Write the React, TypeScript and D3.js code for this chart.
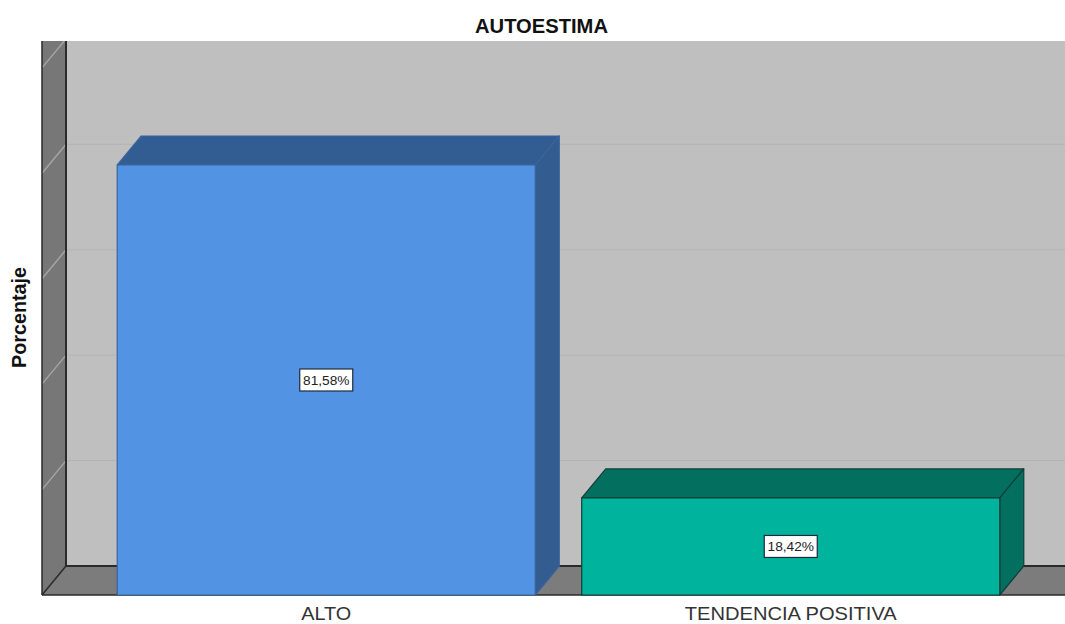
import React from "react";
import * as d3 from "d3";

const categories = ["ALTO", "TENDENCIA POSITIVA"];
const values = [81.58, 18.42];
const valueLabels = ["81,58%", "18,42%"];
const gridValues = [20, 40, 60, 80, 100];
const frontColors = ["#5294e3", "#00b39c"];
const topColors = ["#325d93", "#03705f"];
const sideColors = ["#335d91", "#03705f"];
const edgeColors = ["#38659c", "#0f3f38"];
const FONT = "'Liberation Sans', Arial, sans-serif";

const W = 1065, H = 624;
const left = 42, floorY = 595, dx = 24, dy = 29, top = 41;

const x = d3.scaleBand<string>().domain(categories).range([94, 1023]).paddingInner(0.1).paddingOuter(0.05);
const y = d3.scaleLinear().domain([0, 100]).range([floorY, floorY - 527.1]);
const poly = (pts: [number, number][]) => d3.line()(pts) + "Z";

export default function App() {
  const bw = x.bandwidth();
  return (
    <svg width={W} height={H} viewBox={`0 0 ${W} ${H}`} style={{ position: "absolute", left: 0, top: 0, background: "#fff" }} fontFamily={FONT}>
      <defs>
        <clipPath id="plot"><rect x={left - 1} y={top} width={W - left + 1} height={floorY - top + 1} /></clipPath>
      </defs>
      <text x={541.5} y={33} textAnchor="middle" fontWeight="bold" fontSize={19.5} fill="#111" textLength={133} lengthAdjust="spacingAndGlyphs">AUTOESTIMA</text>
      <text transform="translate(26,317.5) rotate(-90)" textAnchor="middle" fontWeight="bold" fontSize={19.5} fill="#111" textLength={101} lengthAdjust="spacingAndGlyphs">Porcentaje</text>
      <g clipPath="url(#plot)">
        <rect x={left + dx} y={top} width={W - left - dx} height={floorY - dy - top} fill="#bfbfbf" />
        <path d={poly([[left, top], [left + dx, top], [left + dx, floorY - dy], [left, floorY]])} fill="#777777" />
        <path d={poly([[left, floorY], [left + dx, floorY - dy], [W, floorY - dy], [W, floorY]])} fill="#7c7c7c" />
        {gridValues.map((g) => (
          <g key={g}>
            <line x1={left + dx} x2={W} y1={y(g) - dy} y2={y(g) - dy} stroke="#b4b4b4" strokeWidth={1} />
            <line x1={left + dx} x2={left} y1={y(g) - dy} y2={y(g)} stroke="#a6a6a6" strokeWidth={1.4} />
          </g>
        ))}
        <line x1={left} x2={left} y1={top} y2={floorY} stroke="#2a2a2a" strokeWidth={1.5} />
        <line x1={left + dx} x2={left + dx} y1={top} y2={floorY - dy} stroke="#2a2a2a" strokeWidth={2} />
        <line x1={left + dx} x2={W} y1={floorY - dy} y2={floorY - dy} stroke="#2a2a2a" strokeWidth={2} />
        <line x1={left} x2={left + dx} y1={floorY} y2={floorY - dy} stroke="#2a2a2a" strokeWidth={1.5} />
        <line x1={left} x2={W} y1={floorY} y2={floorY} stroke="#2a2a2a" strokeWidth={1.5} />
        {categories.map((c, i) => {
          const x0 = x(c)!, x1 = x0 + bw, yT = y(values[i]);
          const edge = { stroke: edgeColors[i], strokeWidth: 1.2, strokeLinejoin: "round" as const };
          return (
            <g key={c}>
              <path d={poly([[x0, yT], [x0 + dx, yT - dy], [x1 + dx, yT - dy], [x1, yT]])} fill={topColors[i]} {...edge} />
              <path d={poly([[x1, yT], [x1 + dx, yT - dy], [x1 + dx, floorY - dy], [x1, floorY]])} fill={sideColors[i]} {...edge} />
              <rect x={x0} y={yT} width={bw} height={floorY - yT} fill={frontColors[i]} {...edge} />
            </g>
          );
        })}
      </g>
      {categories.map((c, i) => {
        const cx = x(c)! + bw / 2;
        const cy = (y(values[i]) + floorY) / 2;
        return (
          <g key={c}>
            <rect x={cx - 26.5} y={cy - 11} width={53} height={22} fill="#fff" stroke="#1f2a3a" strokeWidth={1.2} />
            <text x={cx} y={cy + 5} textAnchor="middle" fontSize={13.7} fill="#222">{valueLabels[i]}</text>
            <text x={cx} y={619.5} textAnchor="middle" fontSize={19} fill="#333" textLength={i === 0 ? 50 : 212} lengthAdjust="spacingAndGlyphs">{c}</text>
          </g>
        );
      })}
    </svg>
  );
}
